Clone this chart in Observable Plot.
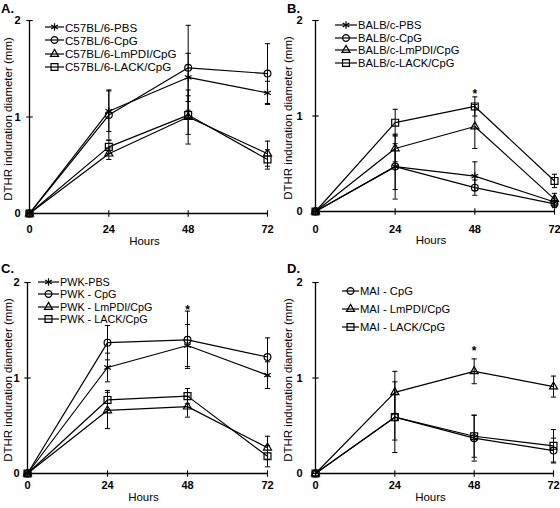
<!DOCTYPE html>
<html>
<head>
<meta charset="utf-8">
<script src="https://cdn.jsdelivr.net/npm/d3@7"></script>
<script src="https://cdn.jsdelivr.net/npm/@observablehq/plot@0.6"></script>
<style>
  body { margin: 0; background: #fff; }
  #wrap { position: relative; width: 560px; height: 508px; overflow: hidden; background: #fff;
          font-family: "Liberation Sans", Arial, sans-serif; color: #000; }
  .panel { position: absolute; width: 280px; height: 254px; }
  .letter { position: absolute; font-weight: bold; font-size: 13px; line-height: 13px; font-family: "Liberation Sans", Arial, sans-serif; }
  .legend { position: absolute; font-family: "Liberation Sans", Arial, sans-serif; }
  .legrow { position: absolute; display: flex; align-items: center; white-space: nowrap; }
  .legrow svg { display: block; }
</style>
</head>
<body>
<div id="wrap"></div>
<script>
// ---------- data ----------
const hours = [0, 24, 48, 72];
const xTicks = [0, 24, 48, 72];
const yTicks = [0, 1, 2];

const seriesA = ["C57BL/6-PBS", "C57BL/6-CpG", "C57BL/6-LmPDI/CpG", "C57BL/6-LACK/CpG"];
const meanA = [[0, 1.06, 1.41, 1.25], [0, 1.02, 1.51, 1.45], [0, 0.62, 1.00, 0.62], [0, 0.69, 1.02, 0.56]];
const errA  = [[0, 0.21, 0.25, 0.12], [0, 0.26, 0.44, 0.31], [0, 0.06, 0.28, 0.13], [0, 0.07, 0.20, 0.10]];
const starA = [];

const seriesB = ["BALB/c-PBS", "BALB/c-CpG", "BALB/c-LmPDI/CpG", "BALB/c-LACK/CpG"];
const meanB = [[0, 0.47, 0.37, 0.10], [0, 0.47, 0.25, 0.08], [0, 0.66, 0.89, 0.13], [0, 0.93, 1.10, 0.32]];
const errB  = [[0, 0.34, 0.15, 0.04], [0, 0.24, 0.08, 0.04], [0, 0.14, 0.23, 0.06], [0, 0.14, 0.10, 0.07]];
const starB = [{hour: 48, value: 1.26}];

const seriesC = ["PWK-PBS", "PWK - CpG", "PWK - LmPDI/CpG", "PWK - LACK/CpG"];
const meanC = [[0, 1.11, 1.34, 1.03], [0, 1.37, 1.40, 1.22], [0, 0.66, 0.70, 0.27], [0, 0.77, 0.81, 0.18]];
const errC  = [[0, 0.15, 0.22, 0.14], [0, 0.18, 0.30, 0.20], [0, 0.19, 0.11, 0.12], [0, 0.10, 0.08, 0.11]];
const starC = [{hour: 48, value: 1.74}];

const seriesD = ["MAI - CpG", "MAI - LmPDI/CpG", "MAI - LACK/CpG"];
const meanD = [[0, 0.59, 0.37, 0.24], [0, 0.85, 1.07, 0.91], [0, 0.59, 0.39, 0.29]];
const errD  = [[0, 0.37, 0.24, 0.13], [0, 0.22, 0.13, 0.11], [0, 0.24, 0.22, 0.17]];
const starD = [{hour: 48, value: 1.31}];

const xLabel = "Hours";
const yLabel = "DTHR induration diameter (mm)";

// ---------- styles ----------
const FONT = "'Liberation Sans', Arial, sans-serif";
const symbolStyle = {
  asterisk: {symbol: "asterisk", r: 3.6},
  circle:   {symbol: "circle",   r: 3.4},
  triangle: {symbol: "triangle", r: 3.0},
  square:   {symbol: "square",   r: 3.9}
};
const vTick = {draw(ctx, size) { const r = Math.sqrt(size / Math.PI); ctx.moveTo(0, -r); ctx.lineTo(0, r); }};
const hTick = {draw(ctx, size) { const r = Math.sqrt(size / Math.PI); ctx.moveTo(-r, 0); ctx.lineTo(r, 0); }};

const panels = [
  {letter: "A.", series: seriesA, mean: meanA, err: errA, star: starA,
   syms: ["asterisk", "circle", "triangle", "square"],
   left: 0, top: 0, m: {l: 29, r: 13, t: 20, b: 41}, tickPad: 12, hoursDy: 28, yPad: 9,
   leg: {x: 45, y: 27, dy: 13.3, lineW: 19, fs: 11.6}, letterPos: [1, 2]},
  {letter: "B.", series: seriesB, mean: meanB, err: errB, star: starB,
   syms: ["asterisk", "circle", "triangle", "square"],
   left: 280, top: 0, m: {l: 35, r: 6, t: 20, b: 43}, tickPad: 14, hoursDy: 29, yPad: 13,
   leg: {x: 335, y: 25, dy: 12.7, lineW: 22, fs: 11.2}, letterPos: [287, 2]},
  {letter: "C.", series: seriesC, mean: meanC, err: errC, star: starC,
   syms: ["asterisk", "circle", "triangle", "square"],
   left: 0, top: 254, m: {l: 27, r: 13, t: 28, b: 35}, tickPad: 8, hoursDy: 24, yPad: 8,
   leg: {x: 38, y: 282, dy: 12.3, lineW: 21, fs: 10.8}, letterPos: [1, 262]},
  {letter: "D.", series: seriesD, mean: meanD, err: errD, star: starD,
   syms: ["circle", "triangle", "square"],
   left: 280, top: 254, m: {l: 35, r: 7, t: 28, b: 35}, tickPad: 8, hoursDy: 24, yPad: 13,
   leg: {x: 342, y: 291, dy: 18, lineW: 17, fs: 11.2}, letterPos: [287, 262]}
];

const wrap = document.getElementById("wrap");

for (const p of panels) {
  const rows = [];
  p.series.forEach((s, i) => hours.forEach((h, j) => rows.push({s, i, hour: h, mean: p.mean[i][j], err: p.err[i][j]})));
  const withErr = rows.filter(d => d.err > 0);

  const marks = [
    // error bars
    Plot.ruleX(withErr, {x: "hour", y1: d => d.mean - d.err, y2: d => d.mean + d.err, stroke: "black", strokeWidth: 1}),
    Plot.dot(withErr, {x: "hour", y: d => d.mean + d.err, symbol: hTick, r: 2.6, stroke: "black", strokeWidth: 1}),
    Plot.dot(withErr, {x: "hour", y: d => d.mean - d.err, symbol: hTick, r: 2.6, stroke: "black", strokeWidth: 1}),
    // lines
    Plot.line(rows, {x: "hour", y: "mean", z: "s", stroke: "black", strokeWidth: 1.2}),
    // markers
    ...p.series.map((s, i) => {
      const st = symbolStyle[p.syms[i]];
      return Plot.dot(rows.filter(d => d.i === i), {x: "hour", y: "mean", symbol: st.symbol, r: st.r,
        stroke: "black", fill: "none", strokeWidth: 1.2});
    }),
    // axes lines + crossing ticks
    Plot.ruleX([0], {stroke: "black", strokeWidth: 1.3}),
    Plot.ruleY([0], {stroke: "black", strokeWidth: 1.3}),
    Plot.dot(xTicks, {x: d => d, y: () => 0, symbol: vTick, r: 3.2, stroke: "black", strokeWidth: 1.1}),
    Plot.dot(yTicks, {x: () => 0, y: d => d, symbol: hTick, r: 3.2, stroke: "black", strokeWidth: 1.1}),
    Plot.axisX({ticks: xTicks, tickFormat: d => String(d), tickSize: 0, tickPadding: p.tickPad, fontWeight: "bold", fontSize: 11, label: null}),
    Plot.axisY({ticks: yTicks, tickFormat: d => String(d), tickSize: 0, tickPadding: p.yPad, fontWeight: "bold", fontSize: 11, label: null}),
    Plot.text([xLabel], {frameAnchor: "bottom", dy: p.hoursDy, dx: -4, fontSize: 11.5, lineAnchor: "middle"}),
    Plot.text([yLabel], {frameAnchor: "left", rotate: -90, textAnchor: "middle", dx: -(p.m.l - 8), dy: 2, fontSize: 11.5, lineAnchor: "middle"}),
    Plot.text(p.star, {x: "hour", y: "value", text: () => "*", fontSize: 12, fontWeight: "bold", lineAnchor: "middle", dy: 3})
  ];

  const chart = Plot.plot({
    width: 280, height: 254,
    marginLeft: p.m.l, marginRight: p.m.r, marginTop: p.m.t, marginBottom: p.m.b,
    x: {domain: [0, 72]},
    y: {domain: [0, 2]},
    style: {fontFamily: FONT, color: "black", background: "transparent", overflow: "visible"},
    marks
  });

  const div = document.createElement("div");
  div.className = "panel";
  div.style.left = p.left + "px";
  div.style.top = p.top + "px";
  div.appendChild(chart);
  wrap.appendChild(div);

  // panel letter
  const let_ = document.createElement("div");
  let_.className = "letter";
  let_.textContent = p.letter;
  let_.style.left = p.letterPos[0] + "px";
  let_.style.top = p.letterPos[1] + "px";
  wrap.appendChild(let_);

  // legend
  p.series.forEach((s, i) => {
    const row = document.createElement("div");
    row.className = "legrow legend";
    row.style.left = p.leg.x + "px";
    row.style.top = (p.leg.y + i * p.leg.dy - 6) + "px";
    row.style.height = "12px";
    row.style.fontSize = p.leg.fs + "px";
    const w = p.leg.lineW;
    const svg = d3.create("svg").attr("width", w + 1).attr("height", 12);
    svg.append("line").attr("x1", 0).attr("x2", w).attr("y1", 6).attr("y2", 6).attr("stroke", "black").attr("stroke-width", 1.2);
    const st = symbolStyle[p.syms[i]];
    const sym = d3.symbol(d3["symbol" + st.symbol[0].toUpperCase() + st.symbol.slice(1)], st.r * st.r * Math.PI);
    svg.append("path").attr("d", sym()).attr("transform", `translate(${w / 2},6)`)
      .attr("fill", "none").attr("stroke", "black").attr("stroke-width", 1.2);
    row.appendChild(svg.node());
    const t = document.createElement("span");
    t.textContent = s;
    row.appendChild(t);
    wrap.appendChild(row);
  });
}
</script>
</body>
</html>
